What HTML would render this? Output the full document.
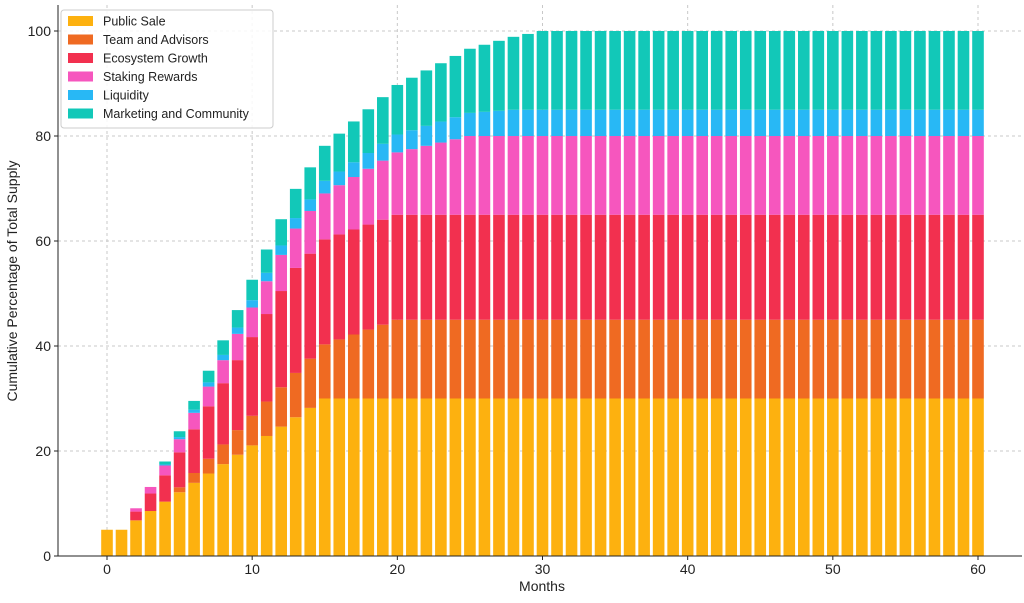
<!DOCTYPE html>
<html><head><meta charset="utf-8"><style>
body{margin:0;background:#fff;font-family:"Liberation Sans",sans-serif}
</style></head><body>
<svg id="chart" width="1024" height="598" xmlns="http://www.w3.org/2000/svg" font-family="Liberation Sans, sans-serif"></svg>
<script>
const months=[];for(let i=0;i<=60;i++)months.push(i);
const publicSale=[5,5,6.79,8.57,10.36,12.14,13.93,15.71,17.5,19.29,21.07,22.86,24.64,26.43,28.21,30,30,30,30,30,30,30,30,30,30,30,30,30,30,30,30,30,30,30,30,30,30,30,30,30,30,30,30,30,30,30,30,30,30,30,30,30,30,30,30,30,30,30,30,30,30];
const teamAdvisors=[0,0,0,0,0,0.94,1.88,2.81,3.75,4.69,5.63,6.56,7.5,8.44,9.38,10.31,11.25,12.19,13.13,14.06,15,15,15,15,15,15,15,15,15,15,15,15,15,15,15,15,15,15,15,15,15,15,15,15,15,15,15,15,15,15,15,15,15,15,15,15,15,15,15,15,15];
const ecosystem=[0,0,1.67,3.33,5,6.67,8.33,10,11.67,13.33,15,16.67,18.33,20,20,20,20,20,20,20,20,20,20,20,20,20,20,20,20,20,20,20,20,20,20,20,20,20,20,20,20,20,20,20,20,20,20,20,20,20,20,20,20,20,20,20,20,20,20,20,20];
const staking=[0,0,0.63,1.25,1.88,2.5,3.13,3.75,4.38,5,5.63,6.25,6.88,7.5,8.13,8.75,9.38,10,10.63,11.25,11.88,12.5,13.13,13.75,14.38,15,15,15,15,15,15,15,15,15,15,15,15,15,15,15,15,15,15,15,15,15,15,15,15,15,15,15,15,15,15,15,15,15,15,15,15];
const liquidity=[0,0,0,0,0.2,0.4,0.6,0.8,1,1.2,1.4,1.6,1.8,2,2.2,2.4,2.6,2.8,3,3.2,3.4,3.6,3.8,4,4.2,4.4,4.6,4.8,5,5,5,5,5,5,5,5,5,5,5,5,5,5,5,5,5,5,5,5,5,5,5,5,5,5,5,5,5,5,5,5,5];
const marketing=[0,0,0,0,0.56,1.11,1.67,2.22,2.78,3.33,3.89,4.44,5,5.56,6.11,6.67,7.22,7.78,8.33,8.89,9.44,10,10.56,11.11,11.67,12.22,12.78,13.33,13.89,14.44,15,15,15,15,15,15,15,15,15,15,15,15,15,15,15,15,15,15,15,15,15,15,15,15,15,15,15,15,15,15,15];
const seriesNames=["Public Sale","Team and Advisors","Ecosystem Growth","Staking Rewards","Liquidity","Marketing and Community"];
const seriesColors=["#FDB10F","#EF6A22","#F2304F","#F656BE","#28B8F5","#12C8B8"];
const xTicks=[0,10,20,30,40,50,60];
const yTicks=[0,20,40,60,80,100];

const svg=document.getElementById('chart');
const NS="http://www.w3.org/2000/svg";
const X=v=>107+v*(978-107)/60;
const Y=v=>556-v*5.25;
function el(t,a,p){const e=document.createElementNS(NS,t);for(const k in a)e.setAttribute(k,a[k]);(p||svg).appendChild(e);return e;}
const grid=el('g',{});


xTicks.forEach(t=>{el('line',{x1:X(t),x2:X(t),y1:5,y2:556,stroke:'#c8c8c8','stroke-dasharray':'3,3','stroke-width':1},grid);});
yTicks.forEach(t=>{el('line',{x1:58,x2:1022,y1:Y(t),y2:Y(t),stroke:'#c8c8c8','stroke-dasharray':'3,3','stroke-width':1},grid);});
const data=[publicSale,teamAdvisors,ecosystem,staking,liquidity,marketing];
const bw=0.8*(978-107)/60;
const bars=el('g',{});


months.forEach((m,i)=>{let base=0;data.forEach((s,j)=>{const v=s[i];if(v>0){const r=el('rect',{x:X(m)-bw/2,y:Y(base+v),width:bw,height:Y(base)-Y(base+v),fill:seriesColors[j]},bars);

}base+=v;});});
const ax=el('g',{});


el('line',{x1:58,x2:58,y1:5,y2:556,stroke:'#222','stroke-width':1},ax);
el('line',{x1:58,x2:1022,y1:556,y2:556,stroke:'#222','stroke-width':1},ax);
xTicks.forEach(t=>{el('line',{x1:X(t),x2:X(t),y1:556,y2:560,stroke:'#222'},ax);const tx=el('text',{x:X(t),y:574,'text-anchor':'middle','font-size':14,fill:'#222'},ax);tx.textContent=t;

});
yTicks.forEach(t=>{el('line',{x1:54,x2:58,y1:Y(t),y2:Y(t),stroke:'#222'},ax);const tx=el('text',{x:51,y:Y(t)+5,'text-anchor':'end','font-size':14,fill:'#222'},ax);tx.textContent=t;

});
const xl=el('text',{x:542,y:591,'text-anchor':'middle','font-size':14,fill:'#222'});xl.textContent='Months';


const yl=el('text',{x:17,y:281,'text-anchor':'middle','font-size':14,fill:'#222',transform:'rotate(-90 17 281)'});yl.textContent='Cumulative Percentage of Total Supply';


const lg=el('g',{});


el('rect',{x:61,y:10,width:212,height:118,rx:3,fill:'#fff','fill-opacity':0.85,stroke:'#ccc'},lg);
seriesNames.forEach((n,j)=>{const g=el('g',{},lg);


const y=21+j*18.5;el('rect',{x:68,y:y-5,width:25,height:10,fill:seriesColors[j]},g);const t=el('text',{x:103,y:y+4.5,'font-size':12.5,fill:'#222'},g);t.textContent=n;});
</script>
</body></html>
